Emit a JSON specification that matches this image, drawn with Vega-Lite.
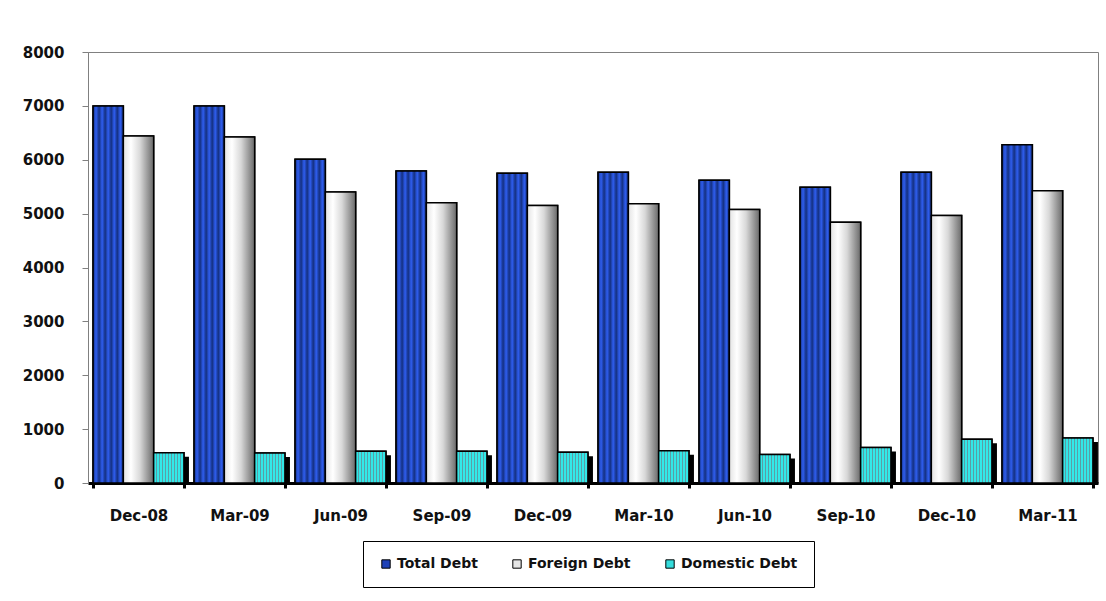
{
  "$schema": "https://vega.github.io/schema/vega-lite/v6.json",
  "autosize": {"type": "none"},
  "padding": {"left": 88, "top": 52, "right": 8, "bottom": 118},
  "width": 1010,
  "height": 431,
  "background": "white",
  "config": {
    "view": {"stroke": "#808080", "strokeWidth": 1},
    "axis": {"labelFont": "DejaVu Sans", "labelFontWeight": "bold", "labelFontSize": 15, "labelColor": "#111", "title": null, "grid": false}
  },
  "data": {
    "values": [
      {"date": "Dec-08", "series": "Total Debt", "value": 7000},
      {"date": "Dec-08", "series": "Foreign Debt", "value": 6440},
      {"date": "Dec-08", "series": "Domestic Debt", "value": 560},
      {"date": "Mar-09", "series": "Total Debt", "value": 7000},
      {"date": "Mar-09", "series": "Foreign Debt", "value": 6420},
      {"date": "Mar-09", "series": "Domestic Debt", "value": 555},
      {"date": "Jun-09", "series": "Total Debt", "value": 6010},
      {"date": "Jun-09", "series": "Foreign Debt", "value": 5400},
      {"date": "Jun-09", "series": "Domestic Debt", "value": 590},
      {"date": "Sep-09", "series": "Total Debt", "value": 5790},
      {"date": "Sep-09", "series": "Foreign Debt", "value": 5200},
      {"date": "Sep-09", "series": "Domestic Debt", "value": 590},
      {"date": "Dec-09", "series": "Total Debt", "value": 5750},
      {"date": "Dec-09", "series": "Foreign Debt", "value": 5150},
      {"date": "Dec-09", "series": "Domestic Debt", "value": 570},
      {"date": "Mar-10", "series": "Total Debt", "value": 5770},
      {"date": "Mar-10", "series": "Foreign Debt", "value": 5185},
      {"date": "Mar-10", "series": "Domestic Debt", "value": 600},
      {"date": "Jun-10", "series": "Total Debt", "value": 5620},
      {"date": "Jun-10", "series": "Foreign Debt", "value": 5075},
      {"date": "Jun-10", "series": "Domestic Debt", "value": 530},
      {"date": "Sep-10", "series": "Total Debt", "value": 5490},
      {"date": "Sep-10", "series": "Foreign Debt", "value": 4840},
      {"date": "Sep-10", "series": "Domestic Debt", "value": 660},
      {"date": "Dec-10", "series": "Total Debt", "value": 5770},
      {"date": "Dec-10", "series": "Foreign Debt", "value": 4965},
      {"date": "Dec-10", "series": "Domestic Debt", "value": 810},
      {"date": "Mar-11", "series": "Total Debt", "value": 6280},
      {"date": "Mar-11", "series": "Foreign Debt", "value": 5425},
      {"date": "Mar-11", "series": "Domestic Debt", "value": 835}
    ]
  },
  "encoding": {
    "x": {
      "field": "date", "type": "nominal", "sort": null,
      "scale": {"paddingInner": 0.1, "paddingOuter": 0.05},
      "axis": {"labelAngle": 0, "labelPadding": 20, "tickBand": "extent", "tickColor": "black", "tickWidth": 3, "tickSize": 5, "domainColor": "black", "domainWidth": 3}
    },
    "xOffset": {
      "field": "series", "type": "nominal",
      "scale": {"domain": ["Total Debt", "Foreign Debt", "Domestic Debt"], "paddingInner": 0, "paddingOuter": 0}
    },
    "y": {
      "field": "value", "type": "quantitative",
      "scale": {"domain": [0, 8000], "nice": false},
      "axis": {"values": [0, 1000, 2000, 3000, 4000, 5000, 6000, 7000, 8000], "format": "d", "domainColor": "#808080", "tickColor": "#808080", "tickSize": 6, "labelPadding": 18}
    }
  },
  "layer": [
    {
      "transform": [{"filter": "datum.series === 'Domestic Debt'"}],
      "mark": {"type": "bar", "color": "black", "stroke": "black", "strokeWidth": 10, "yOffset": 9, "clip": true},
      "encoding": {}
    },
    {
      "mark": {"type": "bar", "stroke": "black", "strokeWidth": 1.5},
      "encoding": {
        "fill": {
          "field": "series", "type": "nominal",
          "scale": {"domain": ["Total Debt", "Foreign Debt", "Domestic Debt"], "range": ["#1f42b8", "#e6e6e6", "#35dcdc"]},
          "legend": {
            "title": null, "orient": "none", "legendX": 275, "legendY": 489, "direction": "horizontal",
            "strokeColor": "black", "fillColor": "white", "padding": 16, "columnPadding": 32,
            "symbolType": "square", "symbolSize": 70, "symbolStrokeColor": "black", "symbolStrokeWidth": 1, "symbolOffset": 0,
            "labelFont": "DejaVu Sans", "labelFontWeight": "bold", "labelFontSize": 14, "labelColor": "#111", "labelOffset": 4
          }
        }
      }
    },
    {
      "mark": {"type": "bar", "stroke": "black", "strokeWidth": 1.5},
      "encoding": {
        "fill": {
          "condition": [
            {
              "test": "datum.series === 'Total Debt'",
              "value": {
                "gradient": "linear", "x1": 0, "x2": 1, "y1": 0, "y2": 0,
                "stops": [
                  {"offset": 0, "color": "#143080"},
                  {"offset": 0.1, "color": "#2f5ef0"},
                  {"offset": 0.2, "color": "#143080"},
                  {"offset": 0.3, "color": "#2f5ef0"},
                  {"offset": 0.4, "color": "#143080"},
                  {"offset": 0.5, "color": "#2f5ef0"},
                  {"offset": 0.6, "color": "#143080"},
                  {"offset": 0.7, "color": "#2f5ef0"},
                  {"offset": 0.8, "color": "#143080"},
                  {"offset": 0.9, "color": "#2f5ef0"},
                  {"offset": 1, "color": "#143080"}
                ]
              }
            },
            {
              "test": "datum.series === 'Foreign Debt'",
              "value": {
                "gradient": "linear", "x1": 0, "x2": 1, "y1": 0, "y2": 0,
                "stops": [
                  {"offset": 0, "color": "#e4e4e4"},
                  {"offset": 0.25, "color": "#ffffff"},
                  {"offset": 0.55, "color": "#d8d8d8"},
                  {"offset": 1, "color": "#6a6a6a"}
                ]
              }
            }
          ],
          "value": {
            "gradient": "linear", "x1": 0, "x2": 1, "y1": 0, "y2": 0,
            "stops": [
              {"offset": 0, "color": "#33e8e8"}, {"offset": 0.07, "color": "#33e8e8"}, {"offset": 0.07, "color": "#5a9ea6"}, {"offset": 0.1, "color": "#5a9ea6"},
              {"offset": 0.1, "color": "#33e8e8"}, {"offset": 0.17, "color": "#33e8e8"}, {"offset": 0.17, "color": "#5a9ea6"}, {"offset": 0.2, "color": "#5a9ea6"},
              {"offset": 0.2, "color": "#33e8e8"}, {"offset": 0.27, "color": "#33e8e8"}, {"offset": 0.27, "color": "#5a9ea6"}, {"offset": 0.3, "color": "#5a9ea6"},
              {"offset": 0.3, "color": "#33e8e8"}, {"offset": 0.37, "color": "#33e8e8"}, {"offset": 0.37, "color": "#5a9ea6"}, {"offset": 0.4, "color": "#5a9ea6"},
              {"offset": 0.4, "color": "#33e8e8"}, {"offset": 0.47, "color": "#33e8e8"}, {"offset": 0.47, "color": "#5a9ea6"}, {"offset": 0.5, "color": "#5a9ea6"},
              {"offset": 0.5, "color": "#33e8e8"}, {"offset": 0.57, "color": "#33e8e8"}, {"offset": 0.57, "color": "#5a9ea6"}, {"offset": 0.6, "color": "#5a9ea6"},
              {"offset": 0.6, "color": "#33e8e8"}, {"offset": 0.67, "color": "#33e8e8"}, {"offset": 0.67, "color": "#5a9ea6"}, {"offset": 0.7, "color": "#5a9ea6"},
              {"offset": 0.7, "color": "#33e8e8"}, {"offset": 0.77, "color": "#33e8e8"}, {"offset": 0.77, "color": "#5a9ea6"}, {"offset": 0.8, "color": "#5a9ea6"},
              {"offset": 0.8, "color": "#33e8e8"}, {"offset": 0.87, "color": "#33e8e8"}, {"offset": 0.87, "color": "#5a9ea6"}, {"offset": 0.9, "color": "#5a9ea6"},
              {"offset": 0.9, "color": "#33e8e8"}, {"offset": 0.97, "color": "#33e8e8"}, {"offset": 0.97, "color": "#5a9ea6"}, {"offset": 1, "color": "#5a9ea6"}
            ]
          }
        }
      }
    }
  ]
}
